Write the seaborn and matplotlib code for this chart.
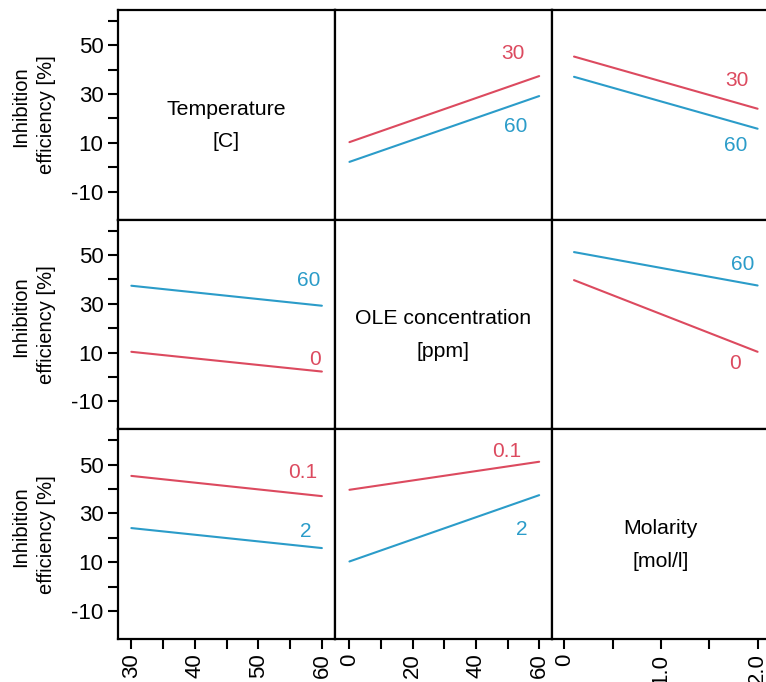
import matplotlib
matplotlib.use("Agg")
import matplotlib.pyplot as plt
import seaborn as sns
import pandas as pd

# ---------------- data ----------------
temp_levels = [30, 60]          # Temperature [C]
ole_levels = [0, 60]            # OLE concentration [ppm]
mol_levels = [0.1, 2]           # Molarity [mol/l]

# Temperature x OLE  (values at OLE = 0, 60)
ie_T30_by_ole = [10.3, 37.4]
ie_T60_by_ole = [2.2, 29.2]
# Temperature x Molarity (values at M = 0.1, 2)
ie_T30_by_mol = [45.4, 24.0]
ie_T60_by_mol = [37.1, 15.8]
# OLE x Molarity (values at M = 0.1, 2)
ie_C0_by_mol = [39.7, 10.3]
ie_C60_by_mol = [51.2, 37.5]

var_names = ["Temperature", "OLE", "Molarity"]
diag_line1 = ["Temperature", "OLE concentration", "Molarity"]
diag_line2 = ["[C]", "[ppm]", "[mol/l]"]
ylabel_line1 = "Inhibition"
ylabel_line2 = "efficiency [%]"

yticks = [-10, 0, 10, 20, 30, 40, 50, 60]
yticklabels = ["-10", "", "10", "", "30", "", "50", ""]
xticks = {
    "Temperature": [30, 35, 40, 45, 50, 55, 60],
    "OLE": [0, 10, 20, 30, 40, 50, 60],
    "Molarity": [0, 0.5, 1.0, 1.5, 2.0],
}
xticklabels = {
    "Temperature": ["30", "", "40", "", "50", "", "60"],
    "OLE": ["0", "", "20", "", "40", "", "60"],
    "Molarity": ["0", "", "1.0", "", "2.0"],
}

# long tables
rows = []
for t, vals in zip(temp_levels, [ie_T30_by_ole, ie_T60_by_ole]):
    for c, v in zip(ole_levels, vals):
        rows.append({"Temperature": t, "OLE": c, "IE": v})
df_TC = pd.DataFrame(rows)
rows = []
for t, vals in zip(temp_levels, [ie_T30_by_mol, ie_T60_by_mol]):
    for m, v in zip(mol_levels, vals):
        rows.append({"Temperature": t, "Molarity": m, "IE": v})
df_TM = pd.DataFrame(rows)
rows = []
for c, vals in zip(ole_levels, [ie_C0_by_mol, ie_C60_by_mol]):
    for m, v in zip(mol_levels, vals):
        rows.append({"OLE": c, "Molarity": m, "IE": v})
df_CM = pd.DataFrame(rows)

tables = {
    frozenset(["Temperature", "OLE"]): df_TC,
    frozenset(["Temperature", "Molarity"]): df_TM,
    frozenset(["OLE", "Molarity"]): df_CM,
}
levels = {"Temperature": temp_levels, "OLE": ole_levels, "Molarity": mol_levels}

# ---------------- style ----------------
sns.set_theme(style="ticks")
plt.rcParams["font.family"] = ["Liberation Sans", "DejaVu Sans"]

RED = "#DC4A5F"
BLUE = "#2B9CC9"
colors = [RED, BLUE]

xlims = {"Temperature": (27.9, 62.05), "OLE": (-4.6, 64.0), "Molarity": (-0.13, 2.115)}
ylim = (-21.5, 64.5)

# label offsets in pixels (first level, second level) for each panel (row, col)
label_offsets = {
    (0, 1): [(-26, 23), (-23, -30)],
    (0, 2): [(-21, 28), (-22, -17)],
    (1, 0): [(-7, 12), (-13, 25)],
    (1, 2): [(-23, -12), (-15, 21)],
    (2, 0): [(-19, 24), (-16, 17)],
    (2, 1): [(-32, 10), (-17, -34)],
}


def fmt(v):
    return "%g" % v


W, H = 766, 682
fig = plt.figure(figsize=(W / 100, H / 100), dpi=100)
axes = fig.subplots(
    3, 3,
    gridspec_kw=dict(hspace=0, wspace=0, left=118 / W, right=768.7 / W,
                     top=1 - 10 / H, bottom=1 - 639 / H),
)

for r, rowvar in enumerate(var_names):
    for c, colvar in enumerate(var_names):
        ax = axes[r, c]
        ax.set_ylim(*ylim)
        ax.set_xlim(*xlims[colvar])
        for sp in ax.spines.values():
            sp.set_visible(True)
            sp.set_color("black")
            sp.set_linewidth(1.6)
        if r == c:
            ax.text(0.5, 0.50, diag_line1[r], transform=ax.transAxes,
                    ha="center", va="baseline", fontsize=15.3, color="black")
            ax.text(0.5, 0.345, diag_line2[r], transform=ax.transAxes,
                    ha="center", va="baseline", fontsize=15.3, color="black")
        else:
            df = tables[frozenset([rowvar, colvar])].copy()
            df["grp"] = df[rowvar].map(fmt)
            order = [fmt(v) for v in levels[rowvar]]
            sns.lineplot(data=df, x=colvar, y="IE", hue="grp", hue_order=order,
                         palette=colors, ax=ax, legend=False, linewidth=1.5)
            for k, lev in enumerate(levels[rowvar]):
                sub = df[df["grp"] == fmt(lev)].sort_values(colvar)
                xe, ye = sub[colvar].iloc[-1], sub["IE"].iloc[-1]
                dx, dy = label_offsets[(r, c)][k]
                ax.annotate(fmt(lev), (xe, ye), xytext=(dx, dy), textcoords="offset pixels",
                            ha="center", va="center", fontsize=15, color=colors[k])
        ax.set_xlabel("")
        ax.set_ylabel("")
        # ticks
        if c == 0:
            ax.set_yticks(yticks)
            ax.set_yticklabels(yticklabels)
        else:
            ax.set_yticks([])
        if r == 2:
            ax.set_xticks(xticks[colvar])
            ax.set_xticklabels(xticklabels[colvar])
        else:
            ax.set_xticks([])
        ax.tick_params(axis="both", direction="out", length=7, width=1.5,
                       color="black", labelsize=16, labelcolor="black", pad=3.5)
        ax.tick_params(axis="x", labelrotation=90)

# y labels per row
row_centers = [115, 324.7, 534.2]
for yc in row_centers:
    fig.text(21 / W, 1 - (yc - 8) / H, ylabel_line1, rotation=90, ha="center",
             va="center", fontsize=14.5, color="black")
    fig.text(47 / W, 1 - yc / H, ylabel_line2, rotation=90, ha="center",
             va="center", fontsize=14.5, color="black")

fig.savefig("out.png", dpi=100, facecolor="white")
